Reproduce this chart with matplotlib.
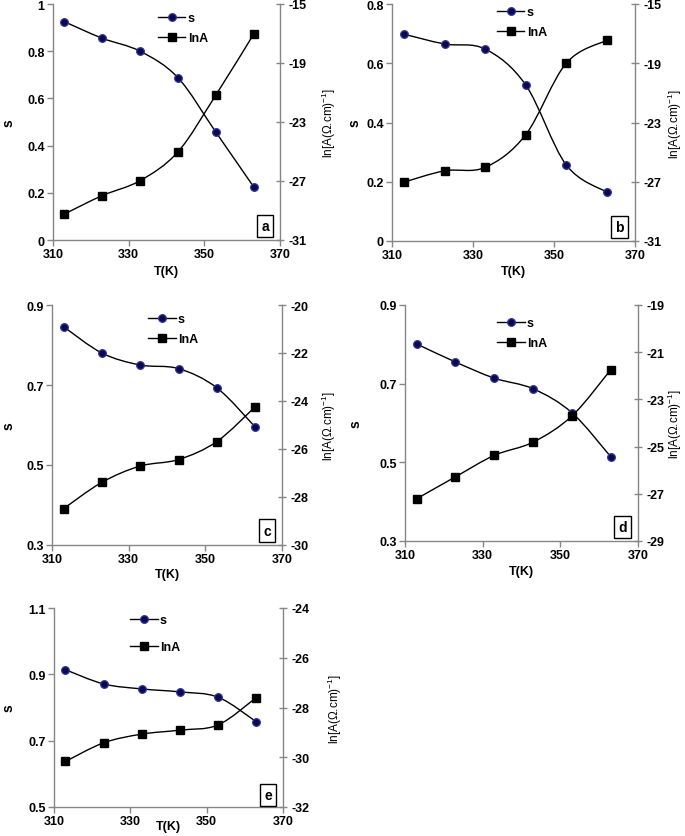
import matplotlib
matplotlib.use("Agg")
import matplotlib.pyplot as plt
from matplotlib.path import Path
from matplotlib.patches import PathPatch
from matplotlib.lines import Line2D

plt.rcParams['font.family'] = ['Liberation Sans', 'DejaVu Sans']
plt.rcParams['mathtext.fontset'] = 'custom'
plt.rcParams['mathtext.rm'] = 'Liberation Sans'
plt.rcParams['mathtext.default'] = 'rm'

# ---------------- data ----------------
T = [313, 323, 333, 343, 353, 363]

s_a = [0.925, 0.855, 0.800, 0.688, 0.458, 0.226]
lnA_a = [-29.24, -27.99, -26.98, -25.03, -21.19, -17.06]

s_b = [0.698, 0.665, 0.648, 0.527, 0.257, 0.165]
lnA_b = [-27.02, -26.26, -26.03, -23.83, -19.00, -17.45]

s_c = [0.846, 0.780, 0.750, 0.741, 0.693, 0.595]
lnA_c = [-28.49, -27.39, -26.71, -26.44, -25.69, -24.24]

s_d = [0.801, 0.755, 0.714, 0.687, 0.626, 0.514]
lnA_d = [-27.21, -26.28, -25.37, -24.81, -23.70, -21.74]

s_e = [0.914, 0.871, 0.856, 0.847, 0.831, 0.757]
lnA_e = [-30.17, -29.42, -29.07, -28.91, -28.70, -27.60]

x_ticks = [310, 330, 350, 370]
panel_letters = ['a', 'b', 'c', 'd', 'e']
left_ticks = [[0, 0.2, 0.4, 0.6, 0.8, 1.0],
              [0, 0.2, 0.4, 0.6, 0.8],
              [0.3, 0.5, 0.7, 0.9],
              [0.3, 0.5, 0.7, 0.9],
              [0.5, 0.7, 0.9, 1.1]]
left_labels = [['0', '0.2', '0.4', '0.6', '0.8', '1'],
               ['0', '0.2', '0.4', '0.6', '0.8'],
               ['0.3', '0.5', '0.7', '0.9'],
               ['0.3', '0.5', '0.7', '0.9'],
               ['0.5', '0.7', '0.9', '1.1']]
right_ticks = [[-31, -27, -23, -19, -15],
               [-31, -27, -23, -19, -15],
               [-30, -28, -26, -24, -22, -20],
               [-29, -27, -25, -23, -21, -19],
               [-32, -30, -28, -26, -24]]
s_series = [s_a, s_b, s_c, s_d, s_e]
lnA_series = [lnA_a, lnA_b, lnA_c, lnA_d, lnA_e]

# ---------------- layout (pixels) ----------------
W, H = 685, 837
# left, right, top, bottom of each axes
rects = [(53, 280, 5, 241), (392, 635, 5, 242), (52, 282, 306, 546),
         (405, 638, 306, 542), (54, 283, 609, 808)]
ylab_x = [16, 362, 16, 363, 16]
rlab_x = [320, 666, 320, 666, 326]
xlab_y = [266, 266, 569, 566, 821]
leg_pos = [(158, 13), (497, 7), (148, 314), (497, 318), (130, 615)]
leg_spacing = [0.65, 0.65, 0.65, 0.65, 1.2]

fig = plt.figure(figsize=(W / 100, H / 100), dpi=100)

SPINE = '#868686'
CIRC_FACE = '#0a0a45'
CIRC_EDGE = '#3030a8'


def smooth_path(xs, ys):
    n = len(xs)
    pts = list(zip(xs, ys))
    verts = [pts[0]]
    codes = [Path.MOVETO]
    for i in range(n - 1):
        p0 = pts[i - 1] if i > 0 else pts[i]
        p1 = pts[i]
        p2 = pts[i + 1]
        p3 = pts[i + 2] if i + 2 < n else pts[i + 1]
        c1 = (p1[0] + (p2[0] - p0[0]) / 6, p1[1] + (p2[1] - p0[1]) / 6)
        c2 = (p2[0] - (p3[0] - p1[0]) / 6, p2[1] - (p3[1] - p1[1]) / 6)
        verts += [c1, c2, p2]
        codes += [Path.CURVE4, Path.CURVE4, Path.CURVE4]
    return Path(verts, codes)


for k in range(5):
    l, r, t, b = rects[k]
    ax = fig.add_axes([l / W, 1 - b / H, (r - l) / W, (b - t) / H])
    ax2 = ax.twinx()

    lt = left_ticks[k]
    rt = right_ticks[k]
    ax.set_xlim(310, 370)
    ax.set_ylim(lt[0], lt[-1])
    ax2.set_ylim(rt[0], rt[-1])

    # smoothed lines
    ax.add_patch(PathPatch(smooth_path(T, s_series[k]), fill=False,
                           edgecolor='black', lw=1.0, zorder=2))
    ax2.add_patch(PathPatch(smooth_path(T, lnA_series[k]), fill=False,
                            edgecolor='black', lw=1.0, zorder=2))
    ax.plot(T, s_series[k], ls='none', marker='o', ms=5.5,
            mfc=CIRC_FACE, mec=CIRC_EDGE, mew=0.9, zorder=3)
    ax2.plot(T, lnA_series[k], ls='none', marker='s', ms=6,
             mfc='black', mec='black', zorder=3)

    ax.set_xticks(x_ticks)
    ax.set_xticklabels([str(v) for v in x_ticks])
    ax.set_yticks(lt)
    ax.set_yticklabels(left_labels[k])
    ax2.set_yticks(rt)
    ax2.set_yticklabels([str(v) for v in rt])

    for a in (ax, ax2):
        a.spines['top'].set_visible(False)
        for sp in ('left', 'right', 'bottom'):
            a.spines[sp].set_color(SPINE)
            a.spines[sp].set_linewidth(1.0)
    ax.spines['right'].set_visible(False)
    ax2.spines['left'].set_visible(False)
    ax2.spines['bottom'].set_visible(False)

    ax.tick_params(axis='both', which='both', direction='out', length=4,
                   width=1, color=SPINE, labelsize=9, pad=2)
    ax2.tick_params(axis='y', direction='inout', length=6, width=1,
                    color=SPINE, labelsize=9, pad=3)
    for lab in ax.get_xticklabels() + ax.get_yticklabels() + ax2.get_yticklabels():
        lab.set_fontweight('bold')

    h = b - t
    w = r - l
    ax.set_ylabel('s', fontsize=10, fontweight='bold')
    ax.yaxis.set_label_coords((ylab_x[k] - l) / w, 0.5)
    ax.set_xlabel('T(K)', fontsize=9, fontweight='bold')
    ax.xaxis.set_label_coords(0.5, (b - xlab_y[k]) / h)
    ax2.set_ylabel(r'ln[A($\Omega$.cm)$^{-1}$]', fontsize=8.5)
    ax2.yaxis.set_label_coords((rlab_x[k] - l) / w, 0.5)

    # panel letter box
    ax.text(0.935, 0.06, panel_letters[k], transform=ax.transAxes,
            ha='center', va='center', fontsize=10, fontweight='bold',
            bbox=dict(boxstyle='square,pad=0.3', fc='white', ec='black', lw=1.0))

    handles = [Line2D([], [], color='black', lw=1.0, marker='o', ms=5.5,
                      mfc=CIRC_FACE, mec=CIRC_EDGE, mew=0.9),
               Line2D([], [], color='black', lw=1.0, marker='s', ms=6,
                      mfc='black', mec='black')]
    lx, ly = leg_pos[k]
    ax2.legend(handles, ['s', 'lnA'], loc='upper left',
               bbox_to_anchor=((lx - l) / w, (b - ly) / h),
               frameon=False, handlelength=2.2, handletextpad=0.2,
               labelspacing=leg_spacing[k], borderaxespad=0, borderpad=0,
               prop={'weight': 'bold', 'size': 9})

fig.savefig('out.png', dpi=100)
